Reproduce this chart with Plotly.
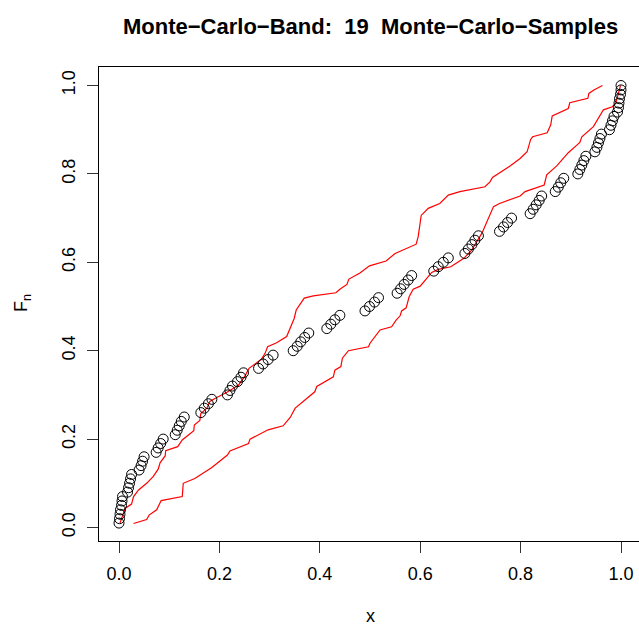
import plotly.graph_objects as go

# Empirical distribution function points (sorted sample, F_n)
x_sample = [0.000, 0.001, 0.002, 0.003, 0.005, 0.006, 0.007,
            0.017, 0.019, 0.021, 0.023, 0.025,
            0.040, 0.044, 0.047, 0.050,
            0.074, 0.078, 0.083, 0.088,
            0.112, 0.116, 0.120, 0.124, 0.130,
            0.163, 0.170, 0.178, 0.185,
            0.216, 0.221, 0.226, 0.236, 0.243, 0.248,
            0.278, 0.287, 0.297, 0.307,
            0.347, 0.355, 0.362, 0.370, 0.378,
            0.414, 0.422, 0.430, 0.440,
            0.490, 0.499, 0.509, 0.517,
            0.554, 0.561, 0.568, 0.576, 0.583,
            0.627, 0.636, 0.646, 0.656,
            0.689, 0.696, 0.703, 0.709, 0.716,
            0.758, 0.766, 0.774, 0.782,
            0.819, 0.825, 0.831, 0.837, 0.842,
            0.869, 0.875, 0.880, 0.886,
            0.914, 0.918, 0.922, 0.926, 0.930,
            0.948, 0.952, 0.955, 0.958, 0.961,
            0.977, 0.980, 0.983, 0.986,
            0.993, 0.995, 0.996, 0.997, 0.999, 1.000, 1.000]

fn_values = [0.01, 0.02, 0.03, 0.04, 0.05, 0.06, 0.07, 0.08, 0.09, 0.10,
             0.11, 0.12, 0.13, 0.14, 0.15, 0.16, 0.17, 0.18, 0.19, 0.20,
             0.21, 0.22, 0.23, 0.24, 0.25, 0.26, 0.27, 0.28, 0.29, 0.30,
             0.31, 0.32, 0.33, 0.34, 0.35, 0.36, 0.37, 0.38, 0.39, 0.40,
             0.41, 0.42, 0.43, 0.44, 0.45, 0.46, 0.47, 0.48, 0.49, 0.50,
             0.51, 0.52, 0.53, 0.54, 0.55, 0.56, 0.57, 0.58, 0.59, 0.60,
             0.61, 0.62, 0.63, 0.64, 0.65, 0.66, 0.67, 0.68, 0.69, 0.70,
             0.71, 0.72, 0.73, 0.74, 0.75, 0.76, 0.77, 0.78, 0.79, 0.80,
             0.81, 0.82, 0.83, 0.84, 0.85, 0.86, 0.87, 0.88, 0.89, 0.90,
             0.91, 0.92, 0.93, 0.94, 0.95, 0.96, 0.97, 0.98, 0.99, 1.00]

# Upper Monte-Carlo band
upper_x = [0.002, 0.009, 0.012, 0.025, 0.029, 0.039, 0.055, 0.068, 0.078, 0.082,
           0.092, 0.093, 0.117, 0.126, 0.138, 0.149, 0.150, 0.161, 0.163, 0.175,
           0.181, 0.191, 0.215, 0.238, 0.251, 0.259, 0.283, 0.291, 0.296, 0.314,
           0.334, 0.340, 0.344, 0.349, 0.353, 0.369, 0.387, 0.432, 0.440, 0.454,
           0.458, 0.480, 0.499, 0.520, 0.532, 0.550, 0.592, 0.596, 0.598, 0.602,
           0.616, 0.639, 0.656, 0.679, 0.729, 0.739, 0.744, 0.779, 0.799, 0.813,
           0.820, 0.824, 0.853, 0.860, 0.863, 0.895, 0.898, 0.934, 0.936, 0.946,
           0.963]
upper_y = [0.010, 0.032, 0.043, 0.053, 0.070, 0.085, 0.100, 0.115, 0.132, 0.147,
           0.162, 0.174, 0.183, 0.198, 0.209, 0.219, 0.232, 0.242, 0.258, 0.270,
           0.285, 0.292, 0.306, 0.322, 0.343, 0.360, 0.380, 0.394, 0.409, 0.418,
           0.432, 0.447, 0.458, 0.473, 0.492, 0.519, 0.524, 0.531, 0.539, 0.550,
           0.562, 0.576, 0.592, 0.598, 0.603, 0.620, 0.641, 0.658, 0.673, 0.706,
           0.722, 0.733, 0.752, 0.760, 0.771, 0.782, 0.792, 0.818, 0.835, 0.850,
           0.878, 0.884, 0.893, 0.911, 0.931, 0.948, 0.961, 0.971, 0.982, 0.990,
           1.000]

# Lower Monte-Carlo band
lower_x = [0.029, 0.055, 0.060, 0.075, 0.084, 0.126, 0.128, 0.151, 0.185, 0.216,
           0.221, 0.258, 0.261, 0.297, 0.327, 0.341, 0.351, 0.371, 0.390, 0.394,
           0.414, 0.427, 0.430, 0.442, 0.445, 0.457, 0.497, 0.500, 0.520, 0.543,
           0.552, 0.560, 0.563, 0.572, 0.578, 0.586, 0.600, 0.613, 0.623, 0.636,
           0.661, 0.687, 0.703, 0.709, 0.723, 0.746, 0.758, 0.799, 0.809, 0.847,
           0.852, 0.872, 0.880, 0.895, 0.912, 0.918, 0.922, 0.945, 0.965, 0.983,
           0.990, 0.995, 0.999]
lower_y = [0.009, 0.018, 0.028, 0.040, 0.061, 0.070, 0.100, 0.111, 0.136, 0.164,
           0.173, 0.190, 0.200, 0.221, 0.230, 0.249, 0.270, 0.290, 0.307, 0.319,
           0.332, 0.341, 0.356, 0.364, 0.383, 0.400, 0.409, 0.417, 0.447, 0.454,
           0.469, 0.479, 0.490, 0.497, 0.522, 0.539, 0.546, 0.564, 0.577, 0.584,
           0.590, 0.609, 0.628, 0.640, 0.666, 0.726, 0.733, 0.750, 0.760, 0.775,
           0.798, 0.818, 0.828, 0.848, 0.865, 0.871, 0.884, 0.907, 0.945, 0.952,
           0.961, 0.982, 1.000]

tick_vals = [0.0, 0.2, 0.4, 0.6, 0.8, 1.0]
tick_text = ["0.0", "0.2", "0.4", "0.6", "0.8", "1.0"]

FONT = "Liberation Sans, Arial, Helvetica, sans-serif"

fig = go.Figure()
fig.add_trace(go.Scatter(x=upper_x, y=upper_y, mode="lines",
                         line=dict(color="#ff0000", width=1.2), showlegend=False))
fig.add_trace(go.Scatter(x=lower_x, y=lower_y, mode="lines",
                         line=dict(color="#ff0000", width=1.2), showlegend=False))
fig.add_trace(go.Scatter(x=x_sample, y=fn_values, mode="markers",
                         marker=dict(symbol="circle-open", size=10, color="black",
                                     line=dict(width=1, color="black")),
                         showlegend=False))

fig.update_layout(
    width=639, height=629,
    margin=dict(l=99, r=0, t=67, b=88),
    paper_bgcolor="white", plot_bgcolor="white",
    font=dict(family=FONT, size=18, color="black"),
    xaxis=dict(range=[-0.03984, 1.03586], tickvals=tick_vals, ticktext=tick_text,
               showgrid=False, zeroline=False, showline=True, mirror=True,
               linecolor="black", linewidth=1.3, ticks="outside", ticklen=11,
               tickwidth=1, tickcolor="#333333", tickfont=dict(size=18),
               ticklabelstandoff=5),
    yaxis=dict(range=[-0.03054, 1.04186], tickvals=tick_vals, ticktext=tick_text,
               showgrid=False, zeroline=False, showline=True,
               linecolor="black", linewidth=1.3, ticks="outside", ticklen=11,
               tickwidth=1, tickcolor="#333333", tickangle=-90, tickfont=dict(size=18),
               ticklabelstandoff=5),
    annotations=[
        dict(text="<b>Monte\u2212Carlo\u2212Band:\u00a0\u00a019\u00a0\u00a0Monte\u2212Carlo\u2212Samples</b>",
             xref="paper", yref="paper", x=(370 - 99) / 540, y=(541 - 27) / 474,
             xanchor="center", yanchor="middle", showarrow=False,
             font=dict(size=22, family=FONT)),
        dict(text="x", xref="paper", yref="paper", x=(370 - 99) / 540,
             y=(541 - 628) / 474, xanchor="center", yanchor="bottom",
             showarrow=False, font=dict(size=18, family=FONT)),
        dict(text="F<sub>n</sub>", xref="paper", yref="paper", x=(22 - 99) / 540,
             y=(541 - 303) / 474, xanchor="center", yanchor="middle", textangle=-90,
             showarrow=False, font=dict(size=18, family=FONT)),
    ],
)

fig.write_html("out.html")
